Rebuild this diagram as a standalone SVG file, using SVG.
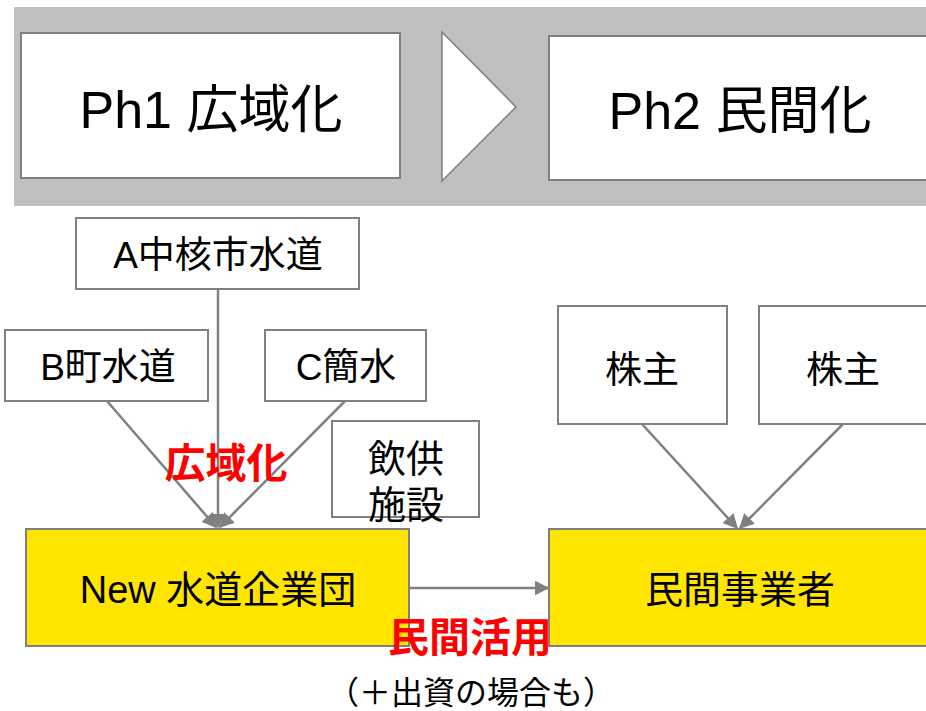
<svg xmlns="http://www.w3.org/2000/svg" width="926" height="711" viewBox="0 0 926 711">
<defs>
<style>
text{font-family:"Liberation Sans","Noto Sans CJK JP",sans-serif;fill:#000;text-anchor:middle}
.box{fill:#fff;stroke:#7f7f7f;stroke-width:2}
.ybox{fill:#ffe500;stroke:#7f7f7f;stroke-width:2}
.ln{stroke:#808080;stroke-width:2.5;fill:none}
.red{fill:#ff0000;font-weight:bold}
</style>
<marker id="ah" viewBox="0 0 10 10" refX="9" refY="5" markerWidth="6" markerHeight="6" orient="auto" markerUnits="strokeWidth">
<path d="M0,0 L10,5 L0,10 z" fill="#808080"/>
</marker>
</defs>
<rect width="926" height="711" fill="#fff"/>
<g id="band">
<rect x="14" y="7" width="912" height="199" fill="#bfbfbf"/>
</g>
<g id="ph1">
<rect class="box" x="21" y="33" width="379" height="145"/>
<text x="211" y="128" font-size="52">Ph1 広域化</text>
</g>
<g id="chevron">
<path d="M442,32 L516,107 L442,181 z" fill="#fff" stroke="#7f7f7f" stroke-width="1.5"/>
</g>
<g id="ph2">
<rect class="box" x="549" y="36" width="390" height="144"/>
<text x="740" y="129" font-size="52">Ph2 民間化</text>
</g>
<g id="connectors">
<line class="ln" x1="218" y1="289" x2="218" y2="527" marker-end="url(#ah)"/>
<line class="ln" x1="107" y1="401" x2="216" y2="527" marker-end="url(#ah)"/>
<line class="ln" x1="345" y1="401" x2="220" y2="527" marker-end="url(#ah)"/>
<line class="ln" x1="642" y1="424" x2="737" y2="528" marker-end="url(#ah)"/>
<line class="ln" x1="843" y1="424" x2="740" y2="528" marker-end="url(#ah)"/>
<line class="ln" x1="409" y1="588" x2="548" y2="588" marker-end="url(#ah)"/>
</g>
<g id="nodeA">
<rect class="box" x="76" y="218" width="283" height="71"/>
<text x="218" y="268" font-size="37">A中核市水道</text>
</g>
<g id="nodeB">
<rect class="box" x="5" y="330" width="203" height="71"/>
<text x="108" y="380" font-size="37">B町水道</text>
</g>
<g id="nodeC">
<rect class="box" x="265" y="330" width="161" height="71"/>
<text x="346" y="380" font-size="37">C簡水</text>
</g>
<g id="nodeInshoku">
<rect class="box" x="332" y="421" width="147" height="96"/>
<text x="406" y="472" font-size="38">飲供</text>
<text x="406" y="518" font-size="38">施設</text>
</g>
<g id="labelKoiki">
<text class="red" x="226" y="478" font-size="41">広域化</text>
</g>
<g id="kabunushi1">
<rect class="box" x="558" y="306" width="169" height="118"/>
<text x="642" y="383" font-size="37">株主</text>
</g>
<g id="kabunushi2">
<rect class="box" x="759" y="306" width="180" height="118"/>
<text x="843" y="383" font-size="37">株主</text>
</g>
<g id="newKigyodan">
<rect class="ybox" x="26" y="529" width="383" height="117"/>
<text x="218" y="603" font-size="38">New 水道企業団</text>
</g>
<g id="minkanJigyosha">
<rect class="ybox" x="549" y="529" width="390" height="117"/>
<text x="740" y="603" font-size="38">民間事業者</text>
</g>
<g id="labelMinkan">
<text class="red" x="470" y="652" font-size="41">民間活用</text>
<text x="471" y="704" font-size="32">（＋出資の場合も）</text>
</g>
</svg>
